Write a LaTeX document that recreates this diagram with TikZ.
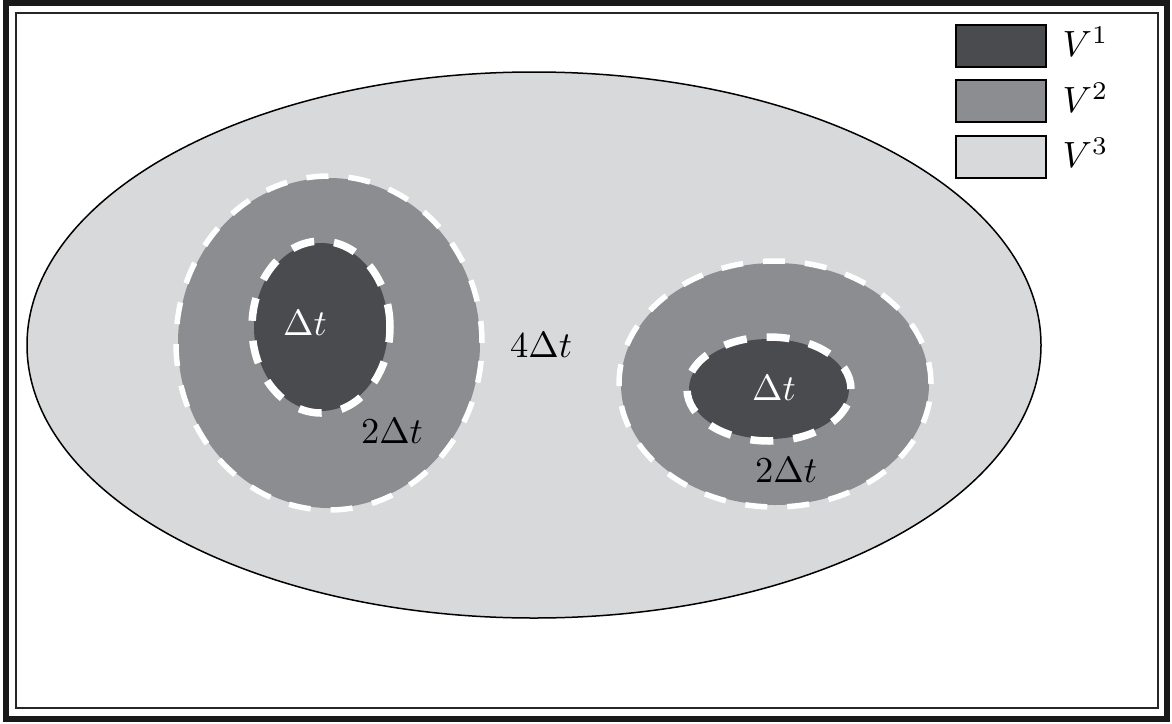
\documentclass[tikz,border=0pt]{standalone}
\definecolor{vone}{HTML}{4A4B4E}
\definecolor{vtwo}{HTML}{8C8D91}
\definecolor{vthree}{HTML}{D8D9DA}
\begin{document}
\begin{tikzpicture}[x=1pt,y=-1pt,
  outerdash/.style={draw=white,line width=5.5pt,dash pattern=on 22pt off 20pt},
  innerdash/.style={draw=white,line width=7.5pt,dash pattern=on 23pt off 20pt},
  lab/.style={inner sep=0pt,scale=3.65},
  legbox/.style={draw=black,line width=1.5pt,minimum width=90pt,minimum height=42pt,inner sep=0pt}]
\useasboundingbox (0,0) rectangle (1172,723);
% frames
\draw[line width=6pt,draw=black!90] (6,3) rectangle (1167,719);
\draw[line width=2pt,draw=black!85] (16,13) rectangle (1158,708);
% big region V3
\draw[fill=vthree,draw=black,line width=1.5pt] (534,345) ellipse [x radius=507pt,y radius=273pt];
% left cluster
\fill[vtwo] (329,343) ellipse [x radius=151pt,y radius=165pt];
\draw[outerdash] (329,343) ellipse [x radius=153pt,y radius=167pt];
\fill[vone] (321,327) ellipse [x radius=67pt,y radius=84pt];
\draw[innerdash] (321,327) ellipse [x radius=69pt,y radius=86pt];
% right cluster
\fill[vtwo] (775,384) ellipse [x radius=154pt,y radius=121pt];
\draw[outerdash] (775,384) ellipse [x radius=156pt,y radius=123pt];
\fill[vone] (769,389) ellipse [x radius=80pt,y radius=50pt];
\draw[innerdash] (769,389) ellipse [x radius=82pt,y radius=52pt];
% labels
\node[lab,text=white] (l1) at (305,323) {$\Delta t$};
\node[lab] (l2) at (392,431) {$2\Delta t$};
\node[lab] (l3) at (541,345) {$4\Delta t$};
\node[lab,text=white] (r1) at (774,388) {$\Delta t$};
\node[lab] (r2) at (786,470) {$2\Delta t$};
% legend
\node[legbox,fill=vone] (b1) at (1001,46) {};
\node[legbox,fill=vtwo] (b2) at (1001,101) {};
\node[legbox,fill=vthree] (b3) at (1001,157) {};
\node[lab,anchor=west] (t1) at (1062,42) {$V^1$};
\node[lab,anchor=west] (t2) at (1062,98) {$V^2$};
\node[lab,anchor=west] (t3) at (1062,153) {$V^3$};
\end{tikzpicture}
\end{document}
